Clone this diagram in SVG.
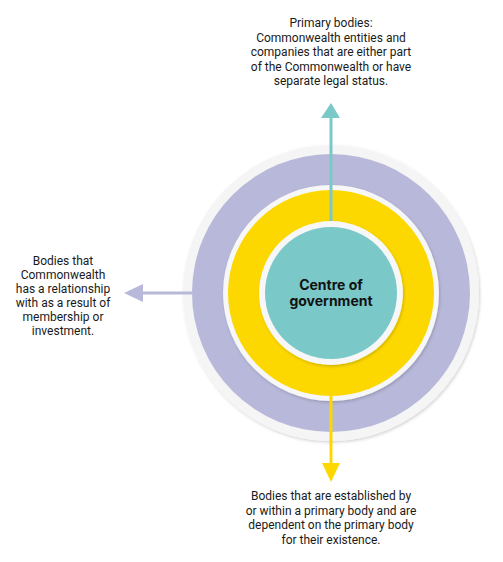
<svg xmlns="http://www.w3.org/2000/svg" width="503" height="562" viewBox="0 0 503 562">
<style>
.lbl{font-family:Roboto,"Liberation Sans",sans-serif;font-size:12px;fill:#1a1a1a;text-anchor:middle}
.ctr{font-family:Inter,"Liberation Sans",sans-serif;font-size:14px;font-weight:bold;fill:#111;text-anchor:middle}
</style>
<defs>
<filter id="sh" x="-10%" y="-10%" width="120%" height="120%">
<feDropShadow dx="1" dy="1.5" stdDeviation="1.5" flood-color="#000" flood-opacity="0.18"/>
</filter>
</defs>
<rect width="503" height="562" fill="#fff"/>
<g id="outer">
<circle cx="331" cy="293" r="148" fill="#f5f5f5" filter="url(#sh)"/>
<circle cx="331" cy="293" r="139" fill="#b8b8da"/>
</g>
<g id="middle">
<circle cx="331" cy="293" r="108" fill="#f7f7f7" filter="url(#sh)"/>
<circle cx="331" cy="293" r="103" fill="#fdd800"/>
</g>
<g id="connectors">
<line x1="331" y1="228" x2="331" y2="116" stroke="#7ac8c8" stroke-width="3"/>
<polygon points="331,103 321,118 340,118" fill="#7ac8c8"/>
<line x1="192" y1="293" x2="141" y2="293" stroke="#b8b8da" stroke-width="3"/>
<polygon points="124,293 143,284 143,302" fill="#b8b8da"/>
<line x1="331" y1="396" x2="331" y2="465" stroke="#fdd800" stroke-width="3"/>
<polygon points="331,482 322,463 340,463" fill="#fdd800"/>
</g>
<g id="centre">
<circle cx="331" cy="293" r="72" fill="#f7f7f7" filter="url(#sh)"/>
<circle cx="331" cy="293" r="66" fill="#7ac8c8"/>
<text class="ctr" x="331" y="290">Centre of</text>
<text class="ctr" x="331" y="306">government</text>
</g>
<g id="primary">
<text class="lbl" x="331" y="27">Primary bodies:</text>
<text class="lbl" x="331" y="41.5">Commonwealth entities and</text>
<text class="lbl" x="331" y="56">companies that are either part</text>
<text class="lbl" x="331" y="70.5">of the Commonwealth or have</text>
<text class="lbl" x="331" y="85">separate legal status.</text>
</g>
<g id="related">
<text class="lbl" x="63" y="265">Bodies that</text>
<text class="lbl" x="63" y="279">Commonwealth</text>
<text class="lbl" x="63" y="293">has a relationship</text>
<text class="lbl" x="63" y="307">with as a result of</text>
<text class="lbl" x="63" y="321">membership or</text>
<text class="lbl" x="63" y="335">investment.</text>
</g>
<g id="subsidiary">
<text class="lbl" x="331" y="500">Bodies that are established by</text>
<text class="lbl" x="331" y="514.5">or within a primary body and are</text>
<text class="lbl" x="331" y="529">dependent on the primary body</text>
<text class="lbl" x="331" y="543.5">for their existence.</text>
</g>
</svg>
